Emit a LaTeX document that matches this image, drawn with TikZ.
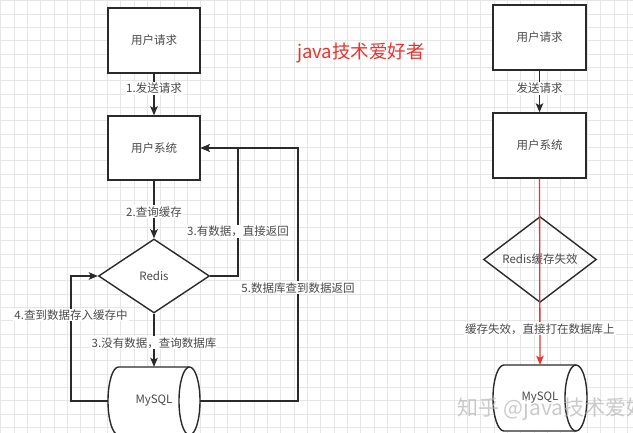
\documentclass[tikz,border=0pt]{standalone}
\usepackage{fontspec}
\setmainfont{Noto Sans CJK SC}
\usetikzlibrary{shapes.geometric,arrows.meta}
\definecolor{gridc}{HTML}{E6E6E6}
\definecolor{linec}{HTML}{2A2A2A}
\definecolor{txtc}{HTML}{4A4A4A}
\definecolor{redc}{HTML}{E8332F}
\definecolor{wmc}{HTML}{B4B4B4}
\begin{document}
\begin{tikzpicture}[x=1pt,y=-1pt,
  every node/.style={font=\fontsize{11.5}{13}\selectfont, text=txtc},
  box/.style={draw=linec, line width=1.4pt, fill=white, minimum width=92pt, minimum height=65pt, inner sep=0pt},
  dia/.style={diamond, draw=linec, line width=1.4pt, inner sep=0pt},
  cylbody/.style={draw=linec, line width=1.4pt, fill=white},
  conn/.style={draw=linec, line width=1.4pt, -{Stealth[length=9pt,width=7.5pt,inset=2pt]}},
  redconn/.style={draw=redc, line width=1.3pt, -{Stealth[length=9pt,width=7.5pt,inset=2pt]}},
  lbl/.style={fill=white, inner sep=1pt},
  gridline/.style={draw=gridc, line width=0.6pt}]

% background and grid
\fill[white] (0,0) rectangle (633,433);
\useasboundingbox (0,0) rectangle (633,433);
\foreach \i in {0,...,47} {
  \draw[gridline] ({0.67+13.333*\i},0) -- ({0.67+13.333*\i},433);
}
\foreach \j in {0,...,32} {
  \draw[gridline] (0,{0.67+13.333*\j}) -- (633,{0.67+13.333*\j});
}

% title
\node[text=redc, font=\fontsize{18.5}{20}\selectfont] (title) at (361,53) {java技术爱好者};

% ---------- left diagram ----------
\node[box] (req1) at (154,40.5) {用户请求};
\node[box, minimum height=64pt] (sys1) at (154,148) {用户系统};
\node[dia, fill=white, minimum width=111pt, minimum height=74pt] (redis1) at (154,276) {Redis};

% left cylinder
\draw[cylbody] (118.5,367) -- (189.5,367)
  arc[start angle=90, end angle=-90, x radius=10.5pt, y radius=34pt]
  -- (118.5,435)
  arc[start angle=270, end angle=90, x radius=10.5pt, y radius=34pt] -- cycle;
\draw[draw=linec, line width=1.4pt] (189.5,367)
  arc[start angle=90, end angle=270, x radius=10.5pt, y radius=34pt];
\node[minimum width=92pt, minimum height=68pt, inner sep=0pt] (mysql1) at (154,401) {MySQL};

\draw[conn] (req1.south) -- node[lbl, pos=0.35] {1.发送请求} (sys1.north);
\draw[conn] (sys1.south) -- node[lbl, pos=0.54] {2.查询缓存} (redis1.north);
\draw[conn] (redis1.south) -- node[lbl, pos=0.55] {3.没有数据，查询数据库} (mysql1.north);
\draw[conn] (redis1.east) -- (238,276) -- node[lbl, pos=0.346] {3.有数据，直接返回} (238,148) -- (sys1.east);
\draw[conn] (mysql1.east) -- (298,401) -- node[lbl, pos=0.448] {5.数据库查到数据返回} (298,148) -- (sys1.east);
\draw[conn] (mysql1.west) -- (71,401) -- node[lbl, pos=0.688] {4.查到数据存入缓存中} (71,276) -- (redis1.west);

% ---------- right diagram ----------
\node[box, minimum width=93pt] (req2) at (539.5,37.5) {用户请求};
\node[box, minimum width=93pt] (sys2) at (539.5,145.5) {用户系统};
\node[dia, minimum width=113pt, minimum height=75pt] (redis2) at (540,259.5) {Redis缓存失效};

% right cylinder
\draw[cylbody] (504,365) -- (576,365)
  arc[start angle=90, end angle=-90, x radius=11pt, y radius=33pt]
  -- (504,431)
  arc[start angle=270, end angle=90, x radius=11pt, y radius=33pt] -- cycle;
\draw[draw=linec, line width=1.4pt] (576,365)
  arc[start angle=90, end angle=270, x radius=11pt, y radius=33pt];
\node[minimum width=94pt, minimum height=66pt, inner sep=0pt] (mysql2) at (540,398) {MySQL};

\draw[conn] (req2.south) -- node[lbl, pos=0.42] {发送请求} (sys2.north);
\draw[redconn] (sys2.south) -- node[lbl, pos=0.807] {缓存失效，直接打在数据库上} (mysql2.north);

% watermark
\node[anchor=west, inner sep=0pt, text=wmc, opacity=0.7, font=\fontsize{21}{22}\selectfont] (wm) at (457,409) {知乎 @java技术爱好者};
\end{tikzpicture}
\end{document}
